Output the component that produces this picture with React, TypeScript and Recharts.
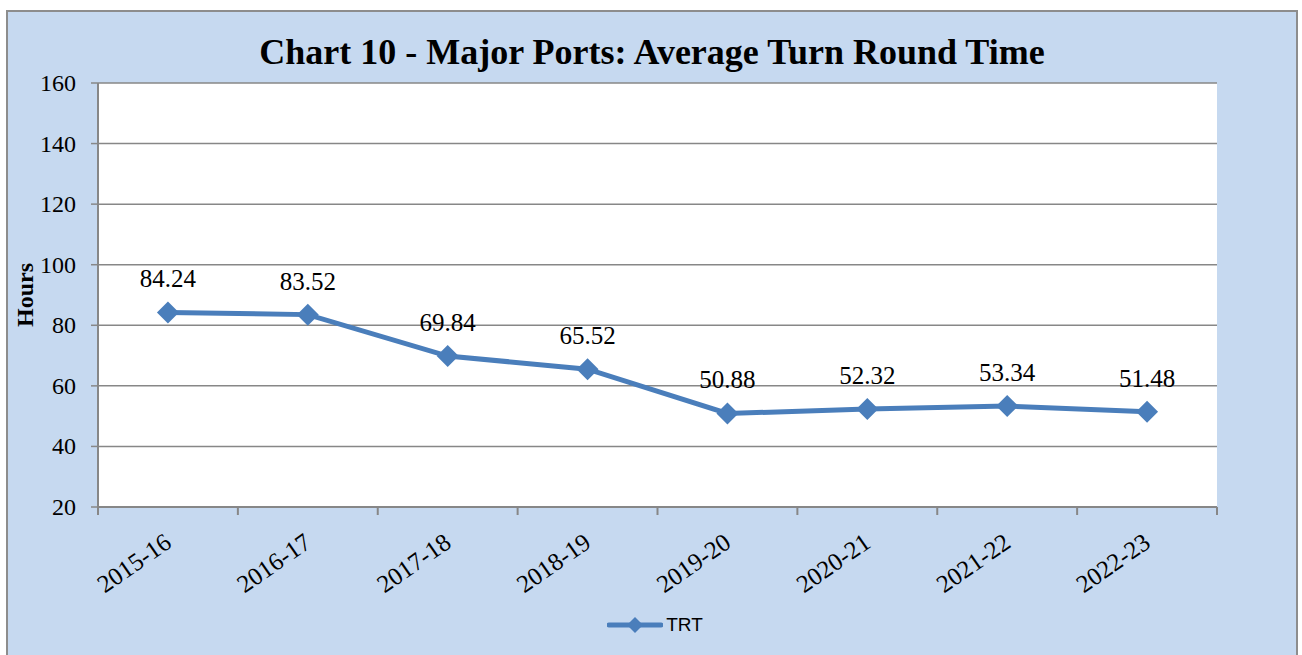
import React from 'react';
import { LineChart, Line, XAxis, YAxis, CartesianGrid, Legend, LabelList } from 'recharts';

const years = ['2015-16', '2016-17', '2017-18', '2018-19', '2019-20', '2020-21', '2021-22', '2022-23'];
const trtHours = [84.24, 83.52, 69.84, 65.52, 50.88, 52.32, 53.34, 51.48];
const yTicks = [20, 40, 60, 80, 100, 120, 140, 160];

const data = years.map((year, i) => ({ year, TRT: trtHours[i] }));

const SERIF = 'Liberation Serif, Times New Roman, serif';
const BLUE = '#4A7EBB';
const GRID = '#878787';

const Diamond = (props: any) => {
  const { cx, cy } = props;
  if (cx == null || cy == null) return null;
  const r = 11;
  return <path d={`M${cx},${cy - r}L${cx + r},${cy}L${cx},${cy + r}L${cx - r},${cy}Z`} fill={BLUE} />;
};

// category label plus Excel-style tick marks on the band edges
const YearTick = (props: any) => {
  const { x, y, payload, index, visibleTicksCount, width } = props;
  const band = width / visibleTicksCount;
  const left = x - band / 2;
  const tx = x + 5;
  const ty = y + 39;
  return (
    <g>
      <line x1={left} y1={y} x2={left} y2={y + 8} stroke={GRID} strokeWidth={2} />
      {index === visibleTicksCount - 1 && (
        <line x1={left + band} y1={y} x2={left + band} y2={y + 8} stroke={GRID} strokeWidth={2} />
      )}
      <text x={tx} y={ty} transform={`rotate(-35, ${tx}, ${ty})`} textAnchor="end"
        style={{ fontFamily: SERIF, fontSize: 25, fill: '#000' }}>
        {payload.value}
      </text>
    </g>
  );
};

const HourTick = (props: any) => {
  const { x, y, payload } = props;
  return (
    <text x={x} y={y} textAnchor="end" dominantBaseline="central"
      style={{ fontFamily: SERIF, fontSize: 24, fill: '#000' }}>
      {payload.value}
    </text>
  );
};

const PointLabel = (props: any) => {
  const { x, y, width, value } = props;
  const cx = x + (width || 0) / 2;
  return (
    <text x={cx} y={y - 25} textAnchor="middle" style={{ fontFamily: SERIF, fontSize: 25, fill: '#000' }}>
      {Number(value).toFixed(2)}
    </text>
  );
};

const HoursLabel = (props: any) => {
  const { viewBox } = props;
  const x = viewBox.x + 15;
  const y = viewBox.y + viewBox.height / 2;
  return (
    <text x={x} y={y} transform={`rotate(-90, ${x}, ${y})`} textAnchor="middle" dominantBaseline="central"
      style={{ fontFamily: SERIF, fontSize: 24, fontWeight: 'bold', fill: '#000' }}>
      Hours
    </text>
  );
};

const LegendBox = (props: any) => {
  const { payload } = props;
  return (
    <div style={{ display: 'flex', justifyContent: 'center', alignItems: 'center', height: 30, paddingLeft: 8 }}>
      {(payload || []).map((entry: any) => (
        <div key={entry.value} style={{ display: 'flex', alignItems: 'center' }}>
          <svg width={56} height={24}>
            <line x1={2} y1={12} x2={54} y2={12} stroke={BLUE} strokeWidth={5} strokeLinecap="round" />
            <path d="M28,4L36,12L28,20L20,12Z" fill={BLUE} />
          </svg>
          <span style={{ fontFamily: 'Liberation Sans, Arial, sans-serif', fontSize: 19, color: '#000', marginLeft: 3 }}>
            {entry.value}
          </span>
        </div>
      ))}
    </div>
  );
};

export default function App() {
  return (
    <div style={{ position: 'absolute', left: 0, top: 0, width: 1302, height: 655, overflow: 'hidden', background: '#fff' }}>
      <div style={{
        position: 'absolute', left: 6, top: 10, width: 1292, height: 700, boxSizing: 'border-box',
        border: '2px solid #8d8d8d', background: '#C6D9F0',
      }} />
      <div style={{
        position: 'absolute', left: 6, top: 29, width: 1292, textAlign: 'center',
        fontFamily: SERIF, fontWeight: 'bold', fontSize: 36, lineHeight: '46px', color: '#000',
      }}>
        Chart 10 - Major Ports: Average Turn Round Time
      </div>
      <div style={{ position: 'absolute', left: 0, top: 0 }}>
        <LineChart width={1302} height={655} data={data} margin={{ top: 83, right: 85, bottom: 15, left: 10 }}>
          <CartesianGrid vertical={false} stroke={GRID} strokeWidth={1.5} fill="#ffffff" fillOpacity={1} />
          <XAxis
            dataKey="year"
            scale="band"
            height={103}
            axisLine={{ stroke: GRID, strokeWidth: 2 }}
            tickLine={false}
            tickSize={0}
            tickMargin={0}
            interval={0}
            tick={<YearTick />}
          />
          <YAxis
            width={88}
            domain={[20, 160]}
            ticks={yTicks}
            interval={0}
            tickSize={7}
            tickMargin={15}
            axisLine={{ stroke: GRID, strokeWidth: 2 }}
            tickLine={{ stroke: GRID, strokeWidth: 1.5 }}
            tick={<HourTick />}
            label={<HoursLabel />}
          />
          <Legend verticalAlign="bottom" height={30} wrapperStyle={{ left: 0, width: 1302 }} content={<LegendBox />} />
          <Line
            type="linear"
            dataKey="TRT"
            stroke={BLUE}
            strokeWidth={5}
            dot={<Diamond />}
            activeDot={false}
            isAnimationActive={false}
          >
            <LabelList dataKey="TRT" content={<PointLabel />} />
          </Line>
        </LineChart>
      </div>
    </div>
  );
}
